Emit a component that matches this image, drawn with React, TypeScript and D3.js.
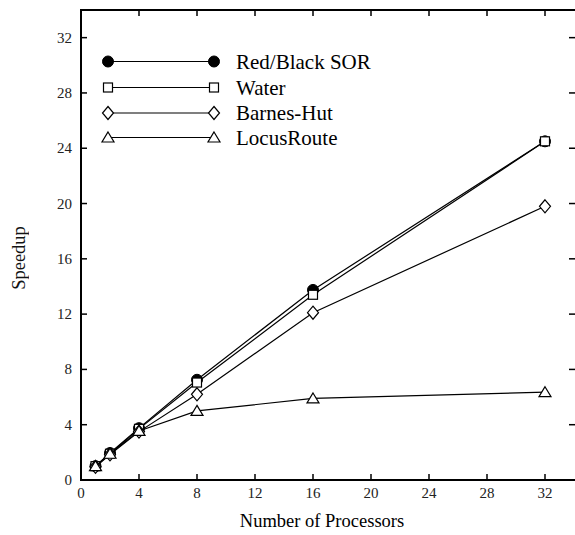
import React from "react";
import * as d3 from "d3";

// data
const processors = [1, 2, 4, 8, 16, 32];
const sorSpeedup = [1.0, 1.95, 3.75, 7.25, 13.75, 24.5];
const waterSpeedup = [1.0, 1.9, 3.7, 7.05, 13.4, 24.5];
const barnesSpeedup = [0.95, 1.85, 3.5, 6.2, 12.1, 19.8];
const locusSpeedup = [1.0, 1.9, 3.55, 5.0, 5.9, 6.35];
const seriesNames = ["Red/Black SOR", "Water", "Barnes-Hut", "LocusRoute"];
const xTicks = [0, 4, 8, 12, 16, 20, 24, 28, 32];
const yTicks = [0, 4, 8, 12, 16, 20, 24, 28, 32];

const W = 575;
const H = 535;
const margin = { top: 10, right: 0, bottom: 55, left: 81 };
const font = "Liberation Serif, Tinos, Times, DejaVu Serif, serif";

function Marker({ kind, x, y }: { kind: string; x: number; y: number }) {
  if (kind === "circle") {
    return <circle cx={x} cy={y} r={5.5} fill="#000" stroke="#000" strokeWidth={1} />;
  }
  if (kind === "square") {
    return <rect x={x - 4.5} y={y - 4.5} width={9} height={9} fill="#fff" stroke="#000" strokeWidth={1.2} />;
  }
  if (kind === "diamond") {
    return (
      <path d={`M${x},${y - 6.5}L${x + 5.5},${y}L${x},${y + 6.5}L${x - 5.5},${y}Z`} fill="#fff" stroke="#000" strokeWidth={1.2} />
    );
  }
  return (
    <path d={`M${x},${y - 5.5}L${x + 6},${y + 4.5}L${x - 6},${y + 4.5}Z`} fill="#fff" stroke="#000" strokeWidth={1.2} />
  );
}

export default function App() {
  const x = d3.scaleLinear().domain([0, 34]).range([margin.left, margin.left + 34 * 14.5]);
  const y = d3.scaleLinear().domain([0, 34]).range([H - margin.bottom, margin.top]);
  const right = W + 2;

  const series = [
    { name: seriesNames[0], values: sorSpeedup, kind: "circle" },
    { name: seriesNames[1], values: waterSpeedup, kind: "square" },
    { name: seriesNames[2], values: barnesSpeedup, kind: "diamond" },
    { name: seriesNames[3], values: locusSpeedup, kind: "triangle" },
  ];

  const line = d3
    .line<number>()
    .x((_, i) => x(processors[i]))
    .y((d) => y(d));

  const legendY = [61.5, 87.5, 113, 137.5];
  const bottom = y(0);
  const top = y(34);
  const txt = { fontFamily: font };

  return (
    <svg width={W} height={H} style={{ position: "absolute", left: 0, top: 0, background: "#fff" }}>
      {/* frame */}
      <rect x={x(0)} y={top} width={right - x(0)} height={bottom - top} fill="none" stroke="#000" strokeWidth={2} />

      {/* x ticks */}
      {xTicks.map((t) => (
        <g key={"x" + t}>
          <line x1={x(t)} x2={x(t)} y1={bottom} y2={bottom - 6} stroke="#000" strokeWidth={1.5} />
          <line x1={x(t)} x2={x(t)} y1={top} y2={top + 6} stroke="#000" strokeWidth={1.5} />
          <text x={x(t)} y={bottom + 18} textAnchor="middle" style={txt} fontSize={15} fill="#222">
            {t}
          </text>
        </g>
      ))}

      {/* y ticks */}
      {yTicks.map((t) => (
        <g key={"y" + t}>
          <line x1={x(0)} x2={x(0) + 6} y1={y(t)} y2={y(t)} stroke="#000" strokeWidth={1.5} />
          <line x1={right} x2={right - 8} y1={y(t)} y2={y(t)} stroke="#000" strokeWidth={1.5} />
          <text x={x(0) - 9} y={y(t) + 5} textAnchor="end" style={txt} fontSize={15} fill="#222">
            {t}
          </text>
        </g>
      ))}

      {/* series */}
      {series.map((s) => (
        <g key={s.name}>
          <path d={line(s.values) || ""} fill="none" stroke="#000" strokeWidth={1.2} />
          {s.values.map((v, i) => (
            <Marker key={i} kind={s.kind} x={x(processors[i])} y={y(v)} />
          ))}
        </g>
      ))}

      {/* legend */}
      {series.map((s, i) => (
        <g key={"leg" + s.name}>
          <line x1={108} x2={214} y1={legendY[i]} y2={legendY[i]} stroke="#000" strokeWidth={1.2} />
          <Marker kind={s.kind} x={108} y={legendY[i]} />
          <Marker kind={s.kind} x={214} y={legendY[i]} />
          <text x={236} y={legendY[i] + 7} style={txt} fontSize={21}>
            {s.name}
          </text>
        </g>
      ))}

      {/* axis titles */}
      <text x={322} y={527} textAnchor="middle" style={txt} fontSize={18.5}>
        Number of Processors
      </text>
      <text
        transform={`translate(25,${(top + bottom) / 2 + 13}) rotate(-90)`}
        textAnchor="middle"
        style={{ ...txt, opacity: 0.99 }}
        fontSize={18.5}
        fill="#111"
      >
        Speedup
      </text>
    </svg>
  );
}
